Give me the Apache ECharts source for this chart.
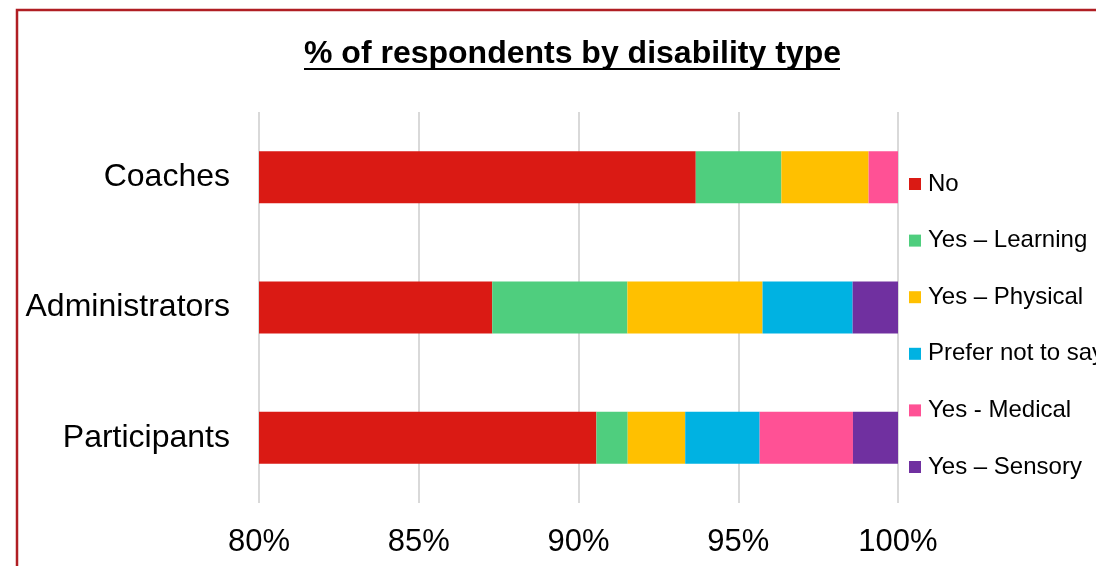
<!DOCTYPE html>
<html>
<head>
<meta charset="utf-8">
<script src="https://cdn.jsdelivr.net/npm/echarts@6/dist/echarts.min.js"></script>
<style>
  html, body { margin: 0; padding: 0; background: #fff; }
  #chart { width: 1096px; height: 566px; }
</style>
</head>
<body>
<div id="chart"></div>
<script>
// Respondent groups, top to bottom
const categories = ['Coaches', 'Administrators', 'Participants'];

// Share of respondents (%) per disability type, one value per group
const seriesNames = ['No', 'Yes \u2013 Learning', 'Yes \u2013 Physical', 'Prefer not to say', 'Yes - Medical', 'Yes \u2013 Sensory'];
const valNo = [93.67, 87.30, 90.56];
const valLearning = [2.68, 4.23, 0.98];
const valPhysical = [2.73, 4.23, 1.80];
const valPreferNot = [0, 2.82, 2.33];
const valMedical = [0.92, 0, 2.92];
const valSensory = [0, 1.42, 1.41];

const xTicks = { min: 80, max: 100, step: 5 };

const colors = ['#DA1A14', '#4FCE7E', '#FFC000', '#00B2E2', '#FF5195', '#7030A0'];
const seriesValues = [valNo, valLearning, valPhysical, valPreferNot, valMedical, valSensory];

const FONT = "'Liberation Sans', Arial, sans-serif";

const chart = echarts.init(document.getElementById('chart'));

chart.setOption({
  animation: false,
  backgroundColor: '#fff',
  title: {
    text: '% of respondents by disability type',
    left: 299,
    top: 33,
    textStyle: { fontFamily: FONT, fontSize: 32, fontWeight: 'bold', color: '#000' }
  },
  graphic: [
    // outer frame of the chart
    {
      type: 'rect', z: 100, silent: true,
      shape: { x: 17, y: 10, width: 1200, height: 700 },
      style: { fill: 'none', stroke: '#B01E23', lineWidth: 2.5 }
    },
    // title underline
    {
      type: 'line', z: 100, silent: true,
      shape: { x1: 304, y1: 69, x2: 840, y2: 69 },
      style: { stroke: '#000', lineWidth: 2 }
    }
  ],
  legend: {
    orient: 'vertical',
    left: 909,
    top: 172,
    padding: 0,
    itemWidth: 12,
    itemHeight: 12,
    itemGap: 32.6,
    icon: 'rect',
    textStyle: { fontFamily: FONT, fontSize: 24, color: '#000', padding: [0, 0, 0, 2] },
    data: seriesNames
  },
  grid: { left: 259, right: 198, top: 112, bottom: 63, containLabel: false },
  xAxis: {
    type: 'value',
    min: xTicks.min,
    max: xTicks.max,
    interval: xTicks.step,
    axisLine: { show: false },
    axisTick: { show: false },
    splitLine: { show: true, lineStyle: { color: '#D9D9D9', width: 2 } },
    axisLabel: {
      formatter: '{value}%',
      margin: 24,
      fontFamily: FONT,
      fontSize: 31,
      color: '#000'
    }
  },
  yAxis: {
    type: 'category',
    inverse: true,
    data: categories,
    axisLine: { show: false },
    axisTick: { show: false },
    axisLabel: { margin: 29, fontFamily: FONT, fontSize: 32, color: '#000', padding: [4, 0, 0, 0] }
  },
  series: seriesNames.map((name, i) => ({
    name: name,
    type: 'bar',
    stack: 'total',
    barWidth: 52,
    itemStyle: { color: colors[i] },
    data: seriesValues[i]
  }))
});
</script>
</body>
</html>
